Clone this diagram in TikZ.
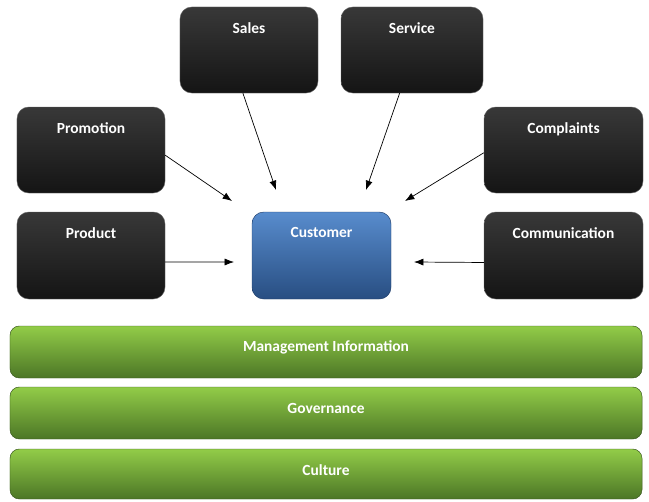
\documentclass[tikz,border=0pt]{standalone}
\usepackage{fontspec}
\setmainfont{Carlito}
\usetikzlibrary{arrows.meta,calc,positioning}
\tikzset{
  box/.style={rounded corners=10pt, minimum height=2.58cm, inner sep=0pt,
    top color=black!78, bottom color=black!92, draw=black!60, thin},
  custbox/.style={box, top color={rgb,255:red,88;green,140;blue,205},
    bottom color={rgb,255:red,40;green,78;blue,130}, draw={rgb,255:red,30;green,60;blue,105}},
  layer/.style={rounded corners=8pt, minimum width=18.96cm, minimum height=1.56cm, inner sep=0pt,
    top color={rgb,255:red,146;green,204;blue,72}, bottom color={rgb,255:red,76;green,118;blue,38},
    draw={rgb,255:red,55;green,85;blue,28}, thin},
  txt/.style={text=white, font=\fontsize{13.2}{15}\selectfont\bfseries, inner sep=0pt},
  top label/.style={label={[txt,anchor=north,yshift=-0.46cm]north:#1}},
  arr/.style={-{Latex[length=8pt,width=6pt]}, line width=0.6pt, black}
}

\begin{document}
\begin{tikzpicture}[x=0.03cm,y=-0.03cm]
    \useasboundingbox (0,0) rectangle (649,501);
    % outer boxes
    \node[box,minimum width=4.14cm,top label=Sales] (Sales) at (249,50) {};
    \node[box,minimum width=4.26cm,top label=Service] (Service) at (412,50) {};
    \node[box,minimum width=4.44cm,top label=Promotion] (Promotion) at (91,150) {};
    \node[box,minimum width=4.77cm,top label=Complaints] (Complaints) at (563.5,150) {};
    \node[box,minimum width=4.44cm,minimum height=2.61cm,top label=Product] (Product) at (91,255.5) {};
    \node[box,minimum width=4.77cm,minimum height=2.61cm,top label=Communication] (Communication) at (563.5,255.5) {};
    % centre
    \node[custbox,minimum width=4.17cm,minimum height=2.61cm,top label=Customer] (Customer) at (321.5,255.5) {};
    % arrow tips
    \coordinate (SalesTip) at (276,190);
    \coordinate (ServiceTip) at (366,190);
    \coordinate (PromotionTip) at (232,201);
    \coordinate (ComplaintsTip) at (405,201);
    \coordinate (ProductTip) at (234,262);
    \coordinate (CommunicationTip) at (414,262);
    \draw[arr] (Sales.262) -- (SalesTip);
    \draw[arr] (Service.254) -- (ServiceTip);
    \draw[arr] (Promotion.-4) -- (PromotionTip);
    \draw[arr] (Complaints.182) -- (ComplaintsTip);
    \draw[arr] (Product.-5) -- (ProductTip);
    \draw[arr] (Communication.185) -- (CommunicationTip);
    % layers
    \node[layer] (MI) at (326,352) {};
    \node[txt] (MItext) at (326,347) {Management Information};
    \node[layer] (Gov) at (326,413) {};
    \node[txt] (Govtext) at (326,408) {Governance};
    \node[layer,minimum height=1.5cm] (Cult) at (326,474) {};
    \node[txt] (Culttext) at (326,470) {Culture};
\end{tikzpicture}
\end{document}
